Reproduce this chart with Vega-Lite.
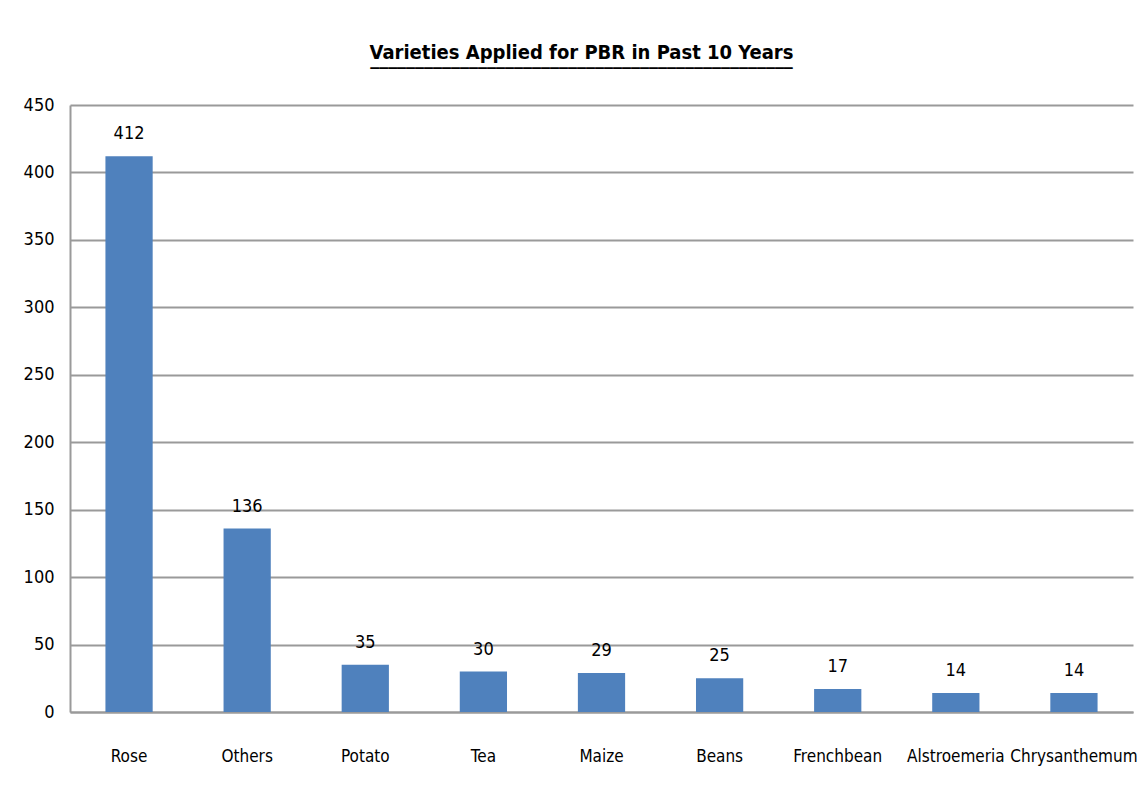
{
  "$schema": "https://vega.github.io/schema/vega-lite/v6.json",
  "autosize": {"type": "none"},
  "width": 1063,
  "height": 607,
  "padding": {"left": 70, "top": 105, "right": 11, "bottom": 79},
  "background": "white",
  "title": {
    "text": "Varieties Applied for PBR in Past 10 Years",
    "subtitle": "‾‾‾‾‾‾‾‾‾‾‾‾‾‾‾‾‾‾‾‾‾‾‾‾‾‾‾‾‾‾‾‾‾‾‾‾‾‾‾‾‾‾‾‾‾‾‾",
    "anchor": "middle",
    "dx": -20,
    "offset": 10,
    "font": "DejaVu Sans Condensed",
    "fontSize": 20,
    "fontWeight": "bold",
    "color": "black",
    "subtitleFont": "DejaVu Sans Condensed",
    "subtitleFontSize": 20,
    "subtitleFontWeight": "bold",
    "subtitleColor": "black",
    "subtitlePadding": 3
  },
  "data": {
    "values": [
      {"crop": "Rose", "varieties": 412},
      {"crop": "Others", "varieties": 136},
      {"crop": "Potato", "varieties": 35},
      {"crop": "Tea", "varieties": 30},
      {"crop": "Maize", "varieties": 29},
      {"crop": "Beans", "varieties": 25},
      {"crop": "Frenchbean", "varieties": 17},
      {"crop": "Alstroemeria", "varieties": 14},
      {"crop": "Chrysanthemum", "varieties": 14}
    ]
  },
  "encoding": {
    "x": {
      "field": "crop",
      "type": "nominal",
      "sort": null,
      "scale": {"paddingInner": 0.6, "paddingOuter": 0.3},
      "axis": {
        "title": null,
        "labelAngle": 0,
        "ticks": false,
        "labelPadding": 36,
        "labelFont": "DejaVu Sans Condensed",
        "labelFontSize": 17,
        "labelColor": "black",
        "domainColor": "#9a9a9a",
        "domainWidth": 2
      }
    },
    "y": {
      "field": "varieties",
      "type": "quantitative",
      "scale": {"domain": [0, 450], "nice": false},
      "axis": {
        "title": null,
        "values": [0, 50, 100, 150, 200, 250, 300, 350, 400, 450],
        "ticks": false,
        "labelPadding": 16,
        "labelFont": "DejaVu Sans Condensed",
        "labelFontSize": 18,
        "labelColor": "black",
        "domainColor": "#9a9a9a",
        "domainWidth": 2,
        "grid": true,
        "gridColor": "#9a9a9a",
        "gridWidth": 2
      }
    }
  },
  "layer": [
    {"mark": {"type": "bar", "color": "#4f81bd"}},
    {
      "mark": {
        "type": "text",
        "baseline": "alphabetic",
        "dy": -17,
        "font": "DejaVu Sans Condensed",
        "fontSize": 18,
        "color": "black"
      },
      "encoding": {"text": {"field": "varieties", "type": "quantitative"}}
    }
  ],
  "config": {"view": {"stroke": null}}
}
